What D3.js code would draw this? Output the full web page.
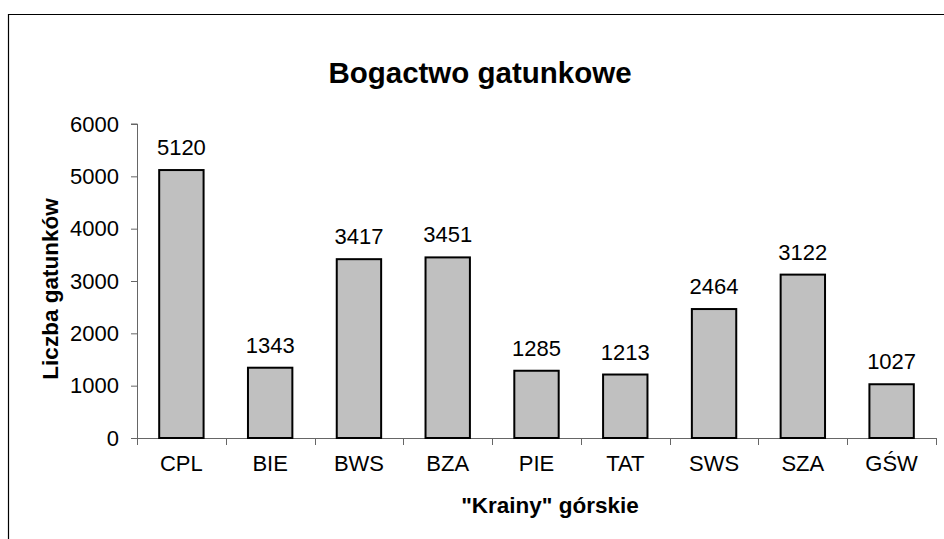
<!DOCTYPE html>
<html>
<head>
<meta charset="utf-8">
<script src="https://cdn.jsdelivr.net/npm/d3@7"></script>
<style>
  body { margin: 0; background: #fff; }
  svg { display: block; font-family: Arial, "Liberation Sans", sans-serif; }
</style>
</head>
<body>
<div class="chart"></div>
<script>
// data
var categories = ["CPL", "BIE", "BWS", "BZA", "PIE", "TAT", "SWS", "SZA", "GŚW"];
var values = [5120, 1343, 3417, 3451, 1285, 1213, 2464, 3122, 1027];
var yTicks = [0, 1000, 2000, 3000, 4000, 5000, 6000];

var width = 944, height = 539;
var margin = {top: 124, right: 8, bottom: 101, left: 137};

var svg = d3.select(".chart")
    .append("svg")
    .attr("width", width)
    .attr("height", height);

// chart area frame (only top and left edge visible)
svg.append("path")
    .attr("d", "M8.5," + height + "V14.5H" + width)
    .style("fill", "none")
    .style("stroke", "#000")
    .style("stroke-width", 1.2);

var x = d3.scaleBand()
    .domain(categories)
    .range([margin.left, width - margin.right])
    .paddingInner(0.5)
    .paddingOuter(0.25);

var y = d3.scaleLinear()
    .domain([0, 6000])
    .range([height - margin.bottom, margin.top]);

// y axis
var yAxis = d3.axisLeft(y)
    .tickValues(yTicks)
    .tickSize(6)
    .tickPadding(12)
    .tickFormat(d3.format("d"));

var gy = svg.append("g")
    .attr("transform", "translate(" + margin.left + ",0)")
    .call(yAxis);

// x axis, ticks between categories
var x0 = margin.left, x1 = width - margin.right;
var step = (x1 - x0) / categories.length;
var gx = svg.append("g")
    .attr("transform", "translate(0," + y(0) + ")");

gx.append("line")
    .attr("x1", x0).attr("x2", x1)
    .attr("y1", 0.5).attr("y2", 0.5);

gx.selectAll(".sep")
    .data(d3.range(categories.length + 1))
  .enter().append("line")
    .attr("class", "sep")
    .attr("x1", function(i) { return Math.round(x0 + i * step) + 0.5; })
    .attr("x2", function(i) { return Math.round(x0 + i * step) + 0.5; })
    .attr("y1", 0).attr("y2", 7);

gx.selectAll(".lbl")
    .data(categories)
  .enter().append("text")
    .attr("class", "lbl")
    .attr("x", function(d) { return x(d) + x.bandwidth() / 2; })
    .attr("y", 33)
    .attr("text-anchor", "middle")
    .text(function(d) { return d; });

svg.selectAll(".domain, .tick line, .sep, g > line")
    .style("stroke", "#666")
    .style("stroke-width", 1);
gy.select(".domain").attr("d", "M-6," + y(6000) + "H0.5V" + y(0));

svg.selectAll(".tick text, .lbl")
    .style("font-size", "22px")
    .style("fill", "#000")
    .style("font-family", "Arial, 'Liberation Sans', sans-serif");

// bars
svg.append("g")
    .attr("class", "bars")
  .selectAll("rect")
    .data(values)
  .enter().append("rect")
    .attr("x", function(d, i) { return x(categories[i]); })
    .attr("y", function(d) { return y(d); })
    .attr("width", x.bandwidth())
    .attr("height", function(d) { return y(0) - y(d); })
    .style("fill", "#c0c0c0")
    .style("stroke", "#000")
    .style("stroke-width", 2);

// value labels
svg.append("g")
  .selectAll("text")
    .data(values)
  .enter().append("text")
    .attr("x", function(d, i) { return x(categories[i]) + x.bandwidth() / 2; })
    .attr("y", function(d) { return y(d) - 15; })
    .attr("text-anchor", "middle")
    .style("font-size", "22px")
    .text(function(d) { return d; });

// titles
svg.append("text")
    .attr("x", 480)
    .attr("y", 83)
    .attr("text-anchor", "middle")
    .style("font-size", "29.5px")
    .style("font-weight", "bold")
    .text("Bogactwo gatunkowe");

svg.append("text")
    .attr("transform", "translate(58,289) rotate(-90)")
    .attr("text-anchor", "middle")
    .style("font-size", "22.5px")
    .style("font-weight", "bold")
    .text("Liczba gatunków");

svg.append("text")
    .attr("x", 550)
    .attr("y", 513)
    .attr("text-anchor", "middle")
    .style("font-size", "22.5px")
    .style("font-weight", "bold")
    .text("\"Krainy\" górskie");
</script>
</body>
</html>
